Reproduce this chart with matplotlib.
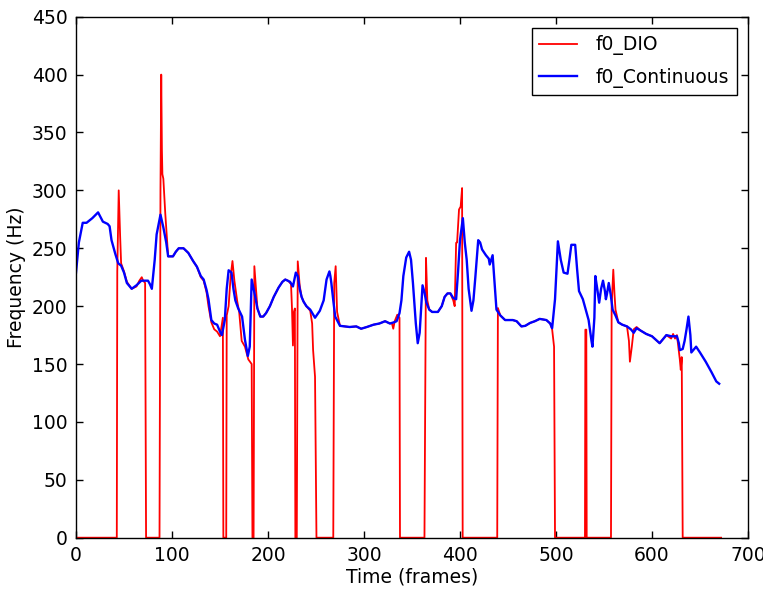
import matplotlib
matplotlib.use("Agg")
import matplotlib.pyplot as plt

# f0_Continuous (blue) knots: frame, Hz
blue_frames = [0, 3, 7, 11, 17, 23, 28, 33, 35, 37, 41, 44, 47, 50, 53, 58, 63, 68, 75, 77, 79, 82, 84, 88, 91,
               94, 96, 101, 104, 107, 112, 117, 122, 126, 130, 133, 136, 138, 141, 144, 147, 150, 152, 155, 157,
               159, 162, 164, 166, 169, 173, 176, 179, 181, 183, 186, 189, 192, 195, 198, 202, 206, 211, 215, 218,
               223, 226, 229, 231, 233, 235, 237, 240, 244, 249, 254, 258, 261, 264, 265, 266, 268, 270, 275, 285,
               292, 297, 303, 310, 316, 322, 327, 331, 334, 337, 339, 341, 344, 347, 349, 351, 354, 356, 358, 361,
               363, 365, 368, 371, 377, 381, 384, 387, 390, 393, 396, 398, 400, 403, 405, 407, 409, 412, 414, 416,
               419, 421, 423, 427, 430, 431, 434, 436, 438, 442, 447, 451, 455, 459, 464, 468, 473, 478, 483, 490,
               494, 496, 499, 502, 505, 508, 512, 514, 516, 520, 522, 524, 528, 531, 534, 537, 538, 540, 541, 543,
               545, 547, 549, 551, 552, 553, 555, 557, 559, 562, 565, 569, 574, 578, 581, 584, 588, 594, 600, 604,
               608, 611, 615, 620, 626, 628, 629, 632, 634, 636, 638, 640, 641, 643, 646, 650, 656, 662, 667, 670]
blue_hz = [229, 255, 272, 272, 276, 281, 273, 271, 269, 257, 245, 237, 235, 229, 220, 215, 218, 222, 222, 219, 215,
           240, 262, 279, 268, 255, 243, 243, 247, 250, 250, 246, 239, 234, 226, 223, 214, 206, 188, 185, 184, 178,
           175, 188, 215, 231, 229, 215, 205, 198, 191, 171, 157, 165, 223, 211, 198, 191, 191, 194, 200, 208, 216,
           221, 223, 221, 217, 229, 226, 215, 208, 204, 200, 197, 190, 196, 205, 223, 230, 226, 220, 205, 191, 183,
           182, 182.5, 180.5, 182, 184, 185, 187, 185, 186, 187, 194, 205, 226, 242, 247, 240, 220, 185, 168, 177,
           218, 212, 203, 197, 195, 195, 200, 208, 211, 211, 207, 206, 230, 257, 276, 255, 240, 215, 196, 205, 225,
           257, 255, 249, 244, 241, 236, 244, 220, 197, 192, 188, 188, 188, 187, 182.5, 183, 185.5, 187, 189, 188,
           185, 181, 206, 256, 240, 229, 228, 240, 253, 253, 232, 213, 206, 197, 188, 170, 165, 190, 226, 215, 203,
           215, 222, 213, 206, 210, 220, 210, 197, 192, 186, 184, 182.5, 180, 177, 181, 179, 176, 174, 171, 168, 171,
           175, 174, 174, 168, 162, 163, 170, 180, 191, 175, 160, 162, 165, 160, 152, 143, 135, 133]

# f0_DIO (red) knots: frame, Hz (0 = unvoiced)
red_frames = [0, 42.5, 43, 44.5, 46, 47, 50, 53, 58, 63, 66, 68.5, 70, 72, 73, 87, 88, 88.8, 89.5, 90, 91, 93, 95,
              96, 101, 104, 107, 112, 117, 122, 126, 130, 133, 136, 138, 141, 144, 147, 150, 152, 153, 153.5, 156.5,
              157, 159, 161, 163, 165, 168, 170, 172.6, 176, 179.5, 183, 183.8, 185, 185.8, 187.5, 189, 192, 195,
              198, 202, 206, 211, 215, 218, 221, 224, 225, 226, 227, 228, 228.5, 230, 231, 233, 235, 237, 240, 244,
              246, 247, 249, 250.5, 268, 269, 270.5, 272, 275, 285, 292, 297, 303, 310, 316, 322, 327, 329, 330.5,
              332, 334.7, 337, 337.5, 363, 364.6, 366, 368, 371, 377, 381, 384, 387, 390, 393, 394.5, 396, 397, 399,
              400.7, 402.2, 402.8, 438.8, 439.5, 442, 447, 451, 455, 459, 464, 468, 473, 478, 483, 490, 494, 496, 498,
              499, 530.2, 530.6, 531.6, 532, 557.3, 558, 559.7, 561, 562, 565, 569, 574, 576, 577, 579, 581, 584, 588,
              594, 600, 604, 608, 611, 615, 620, 622, 624, 626, 629, 630, 631, 632, 672]
red_hz = [0, 0, 230, 300, 260, 237, 230, 221, 215, 217, 222, 225, 222, 220, 0, 0, 300, 400, 335, 314, 310, 280, 255,
          243, 243, 247, 250, 250, 246, 239, 234, 225, 222, 212, 200, 186, 180, 178, 174, 185, 190, 0, 0,
          192, 200, 225, 239, 222, 204, 195, 170, 165, 154, 150, 0, 0, 234.5, 215, 198, 191, 191,
          194, 200, 208, 216, 221, 223, 222, 219, 198, 166, 195, 198, 0, 0, 238.7, 218, 208, 204, 200, 196,
          185, 162, 139, 0, 0, 220, 234.5, 195, 183, 182, 182.5, 180.5, 182, 184, 185, 187, 185, 185.5, 180.5,
          187, 192.6, 190, 0, 0, 241.7, 205, 197, 195, 195, 200, 208, 211, 211, 205, 200, 254.7, 255, 283.5,
          286, 302, 0, 0, 198.4, 192, 188, 188, 188, 187, 182.5, 183, 185.5, 187, 189, 188, 185, 180, 165,
          0, 0, 179.7, 179.7, 0, 0, 200, 231.5, 210, 197, 186, 184, 182.5, 170, 152, 165, 180, 182, 179,
          176, 174, 171, 168, 171, 175, 172, 176, 172, 175, 154, 145, 156, 0, 0]

x_ticks = [0, 100, 200, 300, 400, 500, 600, 700]
y_ticks = [0, 50, 100, 150, 200, 250, 300, 350, 400, 450]

plt.rcParams['font.family'] = ['DejaVu Sans']
fig = plt.figure(figsize=(7.63, 5.89), dpi=100)
ax = fig.add_axes([0.0996, 0.0871, 0.8807, 0.8845])

ax.plot(red_frames, red_hz, color='#ff0000', lw=1.3, label='f0_DIO')
ax.plot(blue_frames, blue_hz, color='#0000ff', lw=1.7, label='f0_Continuous')

ax.set_xlim(0, 700)
ax.set_ylim(0, 450)
ax.set_xticks(x_ticks)
ax.set_yticks(y_ticks)
ax.tick_params(direction='in', top=True, right=True, length=5, width=1, labelsize=13.5, pad=6)
for s in ax.spines.values():
    s.set_linewidth(1.0)
    s.set_color('black')
ax.set_xlabel('Time (frames)', fontsize=13.5, labelpad=2)
ax.set_ylabel('Frequency (Hz)', fontsize=13.5, labelpad=4)

leg = ax.legend(loc='upper right', fontsize=13.5, fancybox=False, edgecolor='black', framealpha=1,
                handlelength=2.0, borderaxespad=0.6, labelspacing=0.65, handletextpad=1.0)
leg.get_frame().set_linewidth(1.0)

fig.savefig('out.png', dpi=100, facecolor='white')
